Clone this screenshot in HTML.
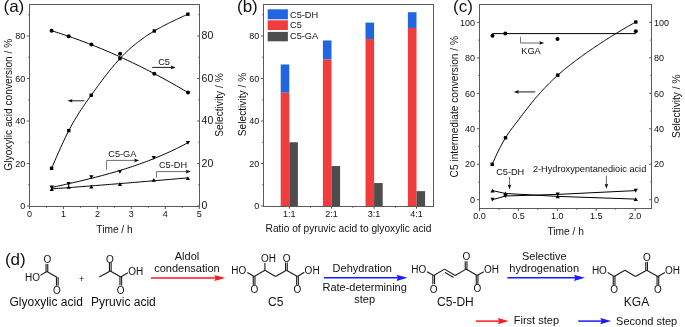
<!DOCTYPE html>
<html><head><meta charset="utf-8"><style>
html,body{margin:0;padding:0;background:#fff;overflow:hidden;width:685px;height:327px;}
svg{display:block;will-change:transform;}
text{font-family:"Liberation Sans", sans-serif;}
</style></head><body>
<svg width="685" height="327" viewBox="0 0 685 327">
<rect width="685" height="327" fill="#fff"/>
<rect x="29.5" y="4.5" width="170.0" height="202.0" fill="none" stroke="#5a5a5a" stroke-width="1.0"/>
<line x1="29.50" y1="206.50" x2="29.50" y2="209.10" stroke="#5a5a5a" stroke-width="1.0"/>
<text x="29.50" y="217.40" font-size="9" text-anchor="middle" fill="#111" >0</text>
<line x1="63.46" y1="206.50" x2="63.46" y2="209.10" stroke="#5a5a5a" stroke-width="1.0"/>
<text x="63.46" y="217.40" font-size="9" text-anchor="middle" fill="#111" >1</text>
<line x1="97.42" y1="206.50" x2="97.42" y2="209.10" stroke="#5a5a5a" stroke-width="1.0"/>
<text x="97.42" y="217.40" font-size="9" text-anchor="middle" fill="#111" >2</text>
<line x1="131.38" y1="206.50" x2="131.38" y2="209.10" stroke="#5a5a5a" stroke-width="1.0"/>
<text x="131.38" y="217.40" font-size="9" text-anchor="middle" fill="#111" >3</text>
<line x1="165.34" y1="206.50" x2="165.34" y2="209.10" stroke="#5a5a5a" stroke-width="1.0"/>
<text x="165.34" y="217.40" font-size="9" text-anchor="middle" fill="#111" >4</text>
<line x1="199.30" y1="206.50" x2="199.30" y2="209.10" stroke="#5a5a5a" stroke-width="1.0"/>
<text x="199.30" y="217.40" font-size="9" text-anchor="middle" fill="#111" >5</text>
<line x1="46.48" y1="206.50" x2="46.48" y2="207.80" stroke="#5a5a5a" stroke-width="1.0"/>
<line x1="80.44" y1="206.50" x2="80.44" y2="207.80" stroke="#5a5a5a" stroke-width="1.0"/>
<line x1="114.40" y1="206.50" x2="114.40" y2="207.80" stroke="#5a5a5a" stroke-width="1.0"/>
<line x1="148.36" y1="206.50" x2="148.36" y2="207.80" stroke="#5a5a5a" stroke-width="1.0"/>
<line x1="182.32" y1="206.50" x2="182.32" y2="207.80" stroke="#5a5a5a" stroke-width="1.0"/>
<line x1="29.50" y1="206.00" x2="26.90" y2="206.00" stroke="#5a5a5a" stroke-width="1.0"/>
<line x1="199.50" y1="206.00" x2="197.10" y2="206.00" stroke="#5a5a5a" stroke-width="1.0"/>
<text x="25.30" y="209.20" font-size="9" text-anchor="end" fill="#111" >0</text>
<text x="201.55" y="209.30" font-size="10.5" text-anchor="start" fill="#111" >0</text>
<line x1="29.50" y1="163.50" x2="26.90" y2="163.50" stroke="#5a5a5a" stroke-width="1.0"/>
<line x1="199.50" y1="163.50" x2="197.10" y2="163.50" stroke="#5a5a5a" stroke-width="1.0"/>
<text x="25.30" y="166.70" font-size="9" text-anchor="end" fill="#111" >20</text>
<text x="201.55" y="166.80" font-size="10.5" text-anchor="start" fill="#111" >20</text>
<line x1="29.50" y1="121.00" x2="26.90" y2="121.00" stroke="#5a5a5a" stroke-width="1.0"/>
<line x1="199.50" y1="121.00" x2="197.10" y2="121.00" stroke="#5a5a5a" stroke-width="1.0"/>
<text x="25.30" y="124.20" font-size="9" text-anchor="end" fill="#111" >40</text>
<text x="201.55" y="124.30" font-size="10.5" text-anchor="start" fill="#111" >40</text>
<line x1="29.50" y1="78.50" x2="26.90" y2="78.50" stroke="#5a5a5a" stroke-width="1.0"/>
<line x1="199.50" y1="78.50" x2="197.10" y2="78.50" stroke="#5a5a5a" stroke-width="1.0"/>
<text x="25.30" y="81.70" font-size="9" text-anchor="end" fill="#111" >60</text>
<text x="201.55" y="81.80" font-size="10.5" text-anchor="start" fill="#111" >60</text>
<line x1="29.50" y1="36.00" x2="26.90" y2="36.00" stroke="#5a5a5a" stroke-width="1.0"/>
<line x1="199.50" y1="36.00" x2="197.10" y2="36.00" stroke="#5a5a5a" stroke-width="1.0"/>
<text x="25.30" y="39.20" font-size="9" text-anchor="end" fill="#111" >80</text>
<text x="201.55" y="39.30" font-size="10.5" text-anchor="start" fill="#111" >80</text>
<line x1="29.50" y1="184.75" x2="28.20" y2="184.75" stroke="#5a5a5a" stroke-width="1.0"/>
<line x1="199.50" y1="184.75" x2="198.30" y2="184.75" stroke="#5a5a5a" stroke-width="1.0"/>
<line x1="29.50" y1="142.25" x2="28.20" y2="142.25" stroke="#5a5a5a" stroke-width="1.0"/>
<line x1="199.50" y1="142.25" x2="198.30" y2="142.25" stroke="#5a5a5a" stroke-width="1.0"/>
<line x1="29.50" y1="99.75" x2="28.20" y2="99.75" stroke="#5a5a5a" stroke-width="1.0"/>
<line x1="199.50" y1="99.75" x2="198.30" y2="99.75" stroke="#5a5a5a" stroke-width="1.0"/>
<line x1="29.50" y1="57.25" x2="28.20" y2="57.25" stroke="#5a5a5a" stroke-width="1.0"/>
<line x1="199.50" y1="57.25" x2="198.30" y2="57.25" stroke="#5a5a5a" stroke-width="1.0"/>
<line x1="29.50" y1="14.75" x2="28.20" y2="14.75" stroke="#5a5a5a" stroke-width="1.0"/>
<line x1="199.50" y1="14.75" x2="198.30" y2="14.75" stroke="#5a5a5a" stroke-width="1.0"/>
<text x="114.50" y="232.60" font-size="10.2" text-anchor="middle" fill="#111" >Time / h</text>
<text x="0" y="0" font-size="10.2" text-anchor="middle" fill="#111" transform="translate(11.50,104.70) rotate(-90)">Glyoxylic acid conversion / %</text>
<text x="0" y="0" font-size="10.2" text-anchor="middle" fill="#111" transform="translate(223.30,105.00) rotate(-90)">Selectivity / %</text>
<text x="3.50" y="12.00" font-size="17" text-anchor="start" fill="#111" >(a)</text>
<path d="M51.60,30.73 L53.91,31.45 L56.22,32.18 L58.54,32.92 L60.85,33.68 L63.16,34.45 L65.47,35.22 L67.78,36.01 L70.09,36.81 L72.41,37.63 L74.72,38.45 L77.03,39.28 L79.34,40.13 L81.65,40.99 L83.97,41.85 L86.28,42.73 L88.59,43.62 L90.90,44.53 L93.21,45.44 L95.53,46.36 L97.84,47.30 L100.15,48.25 L102.46,49.20 L104.77,50.17 L107.08,51.15 L109.40,52.15 L111.71,53.15 L114.02,54.16 L116.33,55.19 L118.64,56.23 L120.96,57.27 L123.27,58.33 L125.58,59.41 L127.89,60.49 L130.20,61.58 L132.52,62.69 L134.83,63.80 L137.14,64.93 L139.45,66.07 L141.76,67.22 L144.07,68.38 L146.39,69.55 L148.70,70.73 L151.01,71.93 L153.32,73.13 L155.63,74.35 L157.95,75.58 L160.26,76.82 L162.57,78.07 L164.88,79.33 L167.19,80.61 L169.51,81.89 L171.82,83.19 L174.13,84.49 L176.44,85.81 L178.75,87.14 L181.06,88.48 L183.38,89.84 L185.69,91.20 L188.00,92.58" stroke="#000" stroke-width="1.0" fill="none"/>
<path d="M51.60,168.30 L52.75,165.64 L53.89,162.98 L55.04,160.34 L56.18,157.70 L57.33,155.08 L58.47,152.48 L59.62,149.91 L60.76,147.36 L61.91,144.84 L63.05,142.36 L64.20,139.92 L65.34,137.52 L66.49,135.18 L67.64,132.88 L68.78,130.64 L69.93,128.45 L71.07,126.33 L72.22,124.26 L73.36,122.24 L74.51,120.27 L75.65,118.34 L76.80,116.45 L77.94,114.61 L79.09,112.80 L80.23,111.03 L81.38,109.29 L82.53,107.57 L83.67,105.88 L84.82,104.22 L85.96,102.57 L87.11,100.94 L88.25,99.32 L89.40,97.71 L90.54,96.11 L91.69,94.52 L92.83,92.93 L93.98,91.35 L95.12,89.77 L96.27,88.19 L97.42,86.63 L98.56,85.07 L99.71,83.52 L100.85,81.98 L102.00,80.46 L103.14,78.94 L104.29,77.44 L105.43,75.95 L106.58,74.47 L107.72,73.01 L108.87,71.57 L110.01,70.14 L111.16,68.73 L112.31,67.34 L113.45,65.97 L114.60,64.62 L115.74,63.29 L116.89,61.98 L118.03,60.70 L119.18,59.44 L120.32,58.20 L121.47,56.99 L122.61,55.81 L123.76,54.65 L124.90,53.51 L126.05,52.40 L127.19,51.30 L128.34,50.24 L129.49,49.19 L130.63,48.17 L131.78,47.16 L132.92,46.18 L134.07,45.22 L135.21,44.27 L136.36,43.35 L137.50,42.44 L138.65,41.56 L139.79,40.69 L140.94,39.83 L142.08,39.00 L143.23,38.18 L144.38,37.38 L145.52,36.59 L146.67,35.81 L147.81,35.05 L148.96,34.31 L150.10,33.58 L151.25,32.86 L152.39,32.15 L153.54,31.46 L154.68,30.77 L155.83,30.10 L156.97,29.44 L158.12,28.79 L159.27,28.14 L160.41,27.51 L161.56,26.89 L162.70,26.27 L163.85,25.67 L164.99,25.07 L166.14,24.48 L167.28,23.90 L168.43,23.32 L169.57,22.75 L170.72,22.19 L171.86,21.63 L173.01,21.08 L174.16,20.53 L175.30,19.98 L176.45,19.45 L177.59,18.91 L178.74,18.38 L179.88,17.85 L181.03,17.32 L182.17,16.80 L183.32,16.28 L184.46,15.76 L185.61,15.24 L186.75,14.72 L187.90,14.20" stroke="#000" stroke-width="1.0" fill="none"/>
<path d="M51.70,187.48 L54.01,186.97 L56.32,186.45 L58.63,185.94 L60.93,185.43 L63.24,184.91 L65.55,184.39 L67.86,183.87 L70.17,183.35 L72.48,182.82 L74.78,182.29 L77.09,181.75 L79.40,181.21 L81.71,180.66 L84.02,180.11 L86.33,179.55 L88.64,178.98 L90.94,178.41 L93.25,177.83 L95.56,177.25 L97.87,176.65 L100.18,176.05 L102.49,175.43 L104.79,174.81 L107.10,174.18 L109.41,173.54 L111.72,172.89 L114.03,172.22 L116.34,171.55 L118.65,170.86 L120.95,170.16 L123.26,169.45 L125.57,168.72 L127.88,167.98 L130.19,167.23 L132.50,166.46 L134.81,165.68 L137.11,164.88 L139.42,164.07 L141.73,163.24 L144.04,162.40 L146.35,161.54 L148.66,160.66 L150.96,159.76 L153.27,158.85 L155.58,157.91 L157.89,156.96 L160.20,155.99 L162.51,155.00 L164.82,153.99 L167.12,152.96 L169.43,151.90 L171.74,150.83 L174.05,149.73 L176.36,148.62 L178.67,147.48 L180.97,146.31 L183.28,145.13 L185.59,143.91 L187.90,142.68" stroke="#000" stroke-width="1.0" fill="none"/>
<path d="M51.70,188.91 L54.01,188.73 L56.32,188.56 L58.63,188.39 L60.93,188.21 L63.24,188.04 L65.55,187.86 L67.86,187.69 L70.17,187.51 L72.48,187.34 L74.78,187.16 L77.09,186.98 L79.40,186.80 L81.71,186.62 L84.02,186.45 L86.33,186.27 L88.64,186.09 L90.94,185.90 L93.25,185.72 L95.56,185.54 L97.87,185.36 L100.18,185.18 L102.49,184.99 L104.79,184.81 L107.10,184.62 L109.41,184.44 L111.72,184.25 L114.03,184.07 L116.34,183.88 L118.65,183.69 L120.95,183.51 L123.26,183.32 L125.57,183.13 L127.88,182.94 L130.19,182.75 L132.50,182.56 L134.81,182.37 L137.11,182.18 L139.42,181.98 L141.73,181.79 L144.04,181.60 L146.35,181.41 L148.66,181.21 L150.96,181.02 L153.27,180.82 L155.58,180.63 L157.89,180.43 L160.20,180.23 L162.51,180.04 L164.82,179.84 L167.12,179.64 L169.43,179.44 L171.74,179.24 L174.05,179.04 L176.36,178.84 L178.67,178.64 L180.97,178.44 L183.28,178.24 L185.59,178.04 L187.90,177.83" stroke="#000" stroke-width="1.0" fill="none"/>
<rect x="49.90" y="166.60" width="3.4" height="3.4" fill="#000"/>
<rect x="67.10" y="128.90" width="3.4" height="3.4" fill="#000"/>
<rect x="89.50" y="93.50" width="3.4" height="3.4" fill="#000"/>
<rect x="118.25" y="56.90" width="3.4" height="3.4" fill="#000"/>
<rect x="152.60" y="29.30" width="3.4" height="3.4" fill="#000"/>
<rect x="186.20" y="12.50" width="3.4" height="3.4" fill="#000"/>
<circle cx="51.60" cy="30.80" r="2.0" fill="#000"/>
<circle cx="68.70" cy="36.30" r="2.0" fill="#000"/>
<circle cx="91.40" cy="44.60" r="2.0" fill="#000"/>
<circle cx="120.10" cy="53.70" r="2.0" fill="#000"/>
<circle cx="154.30" cy="73.80" r="2.0" fill="#000"/>
<circle cx="188.00" cy="92.50" r="2.0" fill="#000"/>
<path d="M49.60,185.60 L53.80,185.60 L51.70,189.40 Z" fill="#000"/>
<path d="M66.60,182.10 L70.80,182.10 L68.70,185.90 Z" fill="#000"/>
<path d="M89.30,175.30 L93.50,175.30 L91.40,179.10 Z" fill="#000"/>
<path d="M117.80,169.90 L122.00,169.90 L119.90,173.70 Z" fill="#000"/>
<path d="M151.70,156.00 L155.90,156.00 L153.80,159.80 Z" fill="#000"/>
<path d="M185.80,140.95 L190.00,140.95 L187.90,144.75 Z" fill="#000"/>
<path d="M49.60,190.95 L53.80,190.95 L51.70,187.15 Z" fill="#000"/>
<path d="M66.60,188.80 L70.80,188.80 L68.70,185.00 Z" fill="#000"/>
<path d="M89.30,188.50 L93.50,188.50 L91.40,184.70 Z" fill="#000"/>
<path d="M117.80,185.90 L122.00,185.90 L119.90,182.10 Z" fill="#000"/>
<path d="M151.70,181.75 L155.90,181.75 L153.80,177.95 Z" fill="#000"/>
<path d="M185.80,180.10 L190.00,180.10 L187.90,176.30 Z" fill="#000"/>
<line x1="84.30" y1="100.80" x2="70.50" y2="100.80" stroke="#000" stroke-width="0.9"/>
<path d="M67.50,100.80 L72.50,99.00 L71.75,100.80 L72.50,102.60 Z" fill="#111"/>
<text x="164.00" y="64.50" font-size="9.2" text-anchor="middle" fill="#111" >C5</text>
<line x1="152.20" y1="67.40" x2="172.70" y2="67.40" stroke="#000" stroke-width="0.9"/>
<path d="M175.70,67.40 L170.70,65.60 L171.45,67.40 L170.70,69.20 Z" fill="#111"/>
<text x="122.30" y="157.30" font-size="9.2" text-anchor="middle" fill="#111" >C5-GA</text>
<path d="M106.5,169.9 L106.5,160.4" stroke="#5a5a5a" stroke-width="0.8" fill="none"/>
<line x1="106.50" y1="160.40" x2="136.20" y2="160.40" stroke="#5a5a5a" stroke-width="0.9"/>
<path d="M139.20,160.40 L134.20,158.60 L134.95,160.40 L134.20,162.20 Z" fill="#111"/>
<text x="173.00" y="168.00" font-size="9.2" text-anchor="middle" fill="#111" >C5-DH</text>
<path d="M156.5,177.7 L156.5,171.6" stroke="#5a5a5a" stroke-width="0.8" fill="none"/>
<line x1="156.50" y1="171.60" x2="187.80" y2="171.60" stroke="#5a5a5a" stroke-width="0.9"/>
<path d="M190.80,171.60 L185.80,169.80 L186.55,171.60 L185.80,173.40 Z" fill="#111"/>
<rect x="263.5" y="4.5" width="170.0" height="202.0" fill="none" stroke="#5a5a5a" stroke-width="1.0"/>
<line x1="263.50" y1="206.00" x2="260.90" y2="206.00" stroke="#5a5a5a" stroke-width="1.0"/>
<text x="259.30" y="209.20" font-size="9" text-anchor="end" fill="#111" >0</text>
<line x1="263.50" y1="163.50" x2="260.90" y2="163.50" stroke="#5a5a5a" stroke-width="1.0"/>
<text x="259.30" y="166.70" font-size="9" text-anchor="end" fill="#111" >20</text>
<line x1="263.50" y1="121.00" x2="260.90" y2="121.00" stroke="#5a5a5a" stroke-width="1.0"/>
<text x="259.30" y="124.20" font-size="9" text-anchor="end" fill="#111" >40</text>
<line x1="263.50" y1="78.50" x2="260.90" y2="78.50" stroke="#5a5a5a" stroke-width="1.0"/>
<text x="259.30" y="81.70" font-size="9" text-anchor="end" fill="#111" >60</text>
<line x1="263.50" y1="36.00" x2="260.90" y2="36.00" stroke="#5a5a5a" stroke-width="1.0"/>
<text x="259.30" y="39.20" font-size="9" text-anchor="end" fill="#111" >80</text>
<line x1="263.50" y1="184.75" x2="262.20" y2="184.75" stroke="#5a5a5a" stroke-width="1.0"/>
<line x1="263.50" y1="142.25" x2="262.20" y2="142.25" stroke="#5a5a5a" stroke-width="1.0"/>
<line x1="263.50" y1="99.75" x2="262.20" y2="99.75" stroke="#5a5a5a" stroke-width="1.0"/>
<line x1="263.50" y1="57.25" x2="262.20" y2="57.25" stroke="#5a5a5a" stroke-width="1.0"/>
<line x1="263.50" y1="14.75" x2="262.20" y2="14.75" stroke="#5a5a5a" stroke-width="1.0"/>
<rect x="280.70" y="64.48" width="8.6" height="28.26" fill="#1f66e0"/>
<rect x="280.70" y="92.74" width="8.6" height="113.76" fill="#f03c3c"/>
<rect x="289.30" y="142.25" width="8.6" height="64.25" fill="#4d4d4d"/>
<line x1="289.30" y1="206.50" x2="289.30" y2="208.70" stroke="#5a5a5a" stroke-width="1.0"/>
<text x="289.30" y="217.20" font-size="9" text-anchor="middle" fill="#111" >1:1</text>
<rect x="322.90" y="40.46" width="8.6" height="19.12" fill="#1f66e0"/>
<rect x="322.90" y="59.59" width="8.6" height="146.91" fill="#f03c3c"/>
<rect x="331.50" y="166.05" width="8.6" height="40.45" fill="#4d4d4d"/>
<line x1="331.50" y1="206.50" x2="331.50" y2="208.70" stroke="#5a5a5a" stroke-width="1.0"/>
<text x="331.50" y="217.20" font-size="9" text-anchor="middle" fill="#111" >2:1</text>
<rect x="365.50" y="22.61" width="8.6" height="16.36" fill="#1f66e0"/>
<rect x="365.50" y="38.98" width="8.6" height="167.52" fill="#f03c3c"/>
<rect x="374.10" y="183.05" width="8.6" height="23.45" fill="#4d4d4d"/>
<line x1="374.10" y1="206.50" x2="374.10" y2="208.70" stroke="#5a5a5a" stroke-width="1.0"/>
<text x="374.10" y="217.20" font-size="9" text-anchor="middle" fill="#111" >3:1</text>
<rect x="407.90" y="12.20" width="8.6" height="15.73" fill="#1f66e0"/>
<rect x="407.90" y="27.93" width="8.6" height="178.57" fill="#f03c3c"/>
<rect x="416.50" y="191.12" width="8.6" height="15.38" fill="#4d4d4d"/>
<line x1="416.50" y1="206.50" x2="416.50" y2="208.70" stroke="#5a5a5a" stroke-width="1.0"/>
<text x="416.50" y="217.20" font-size="9" text-anchor="middle" fill="#111" >4:1</text>
<line x1="263.50" y1="206.50" x2="433.50" y2="206.50" stroke="#5a5a5a" stroke-width="1.0"/>
<line x1="310.40" y1="206.50" x2="310.40" y2="207.80" stroke="#5a5a5a" stroke-width="1.0"/>
<line x1="352.80" y1="206.50" x2="352.80" y2="207.80" stroke="#5a5a5a" stroke-width="1.0"/>
<line x1="395.30" y1="206.50" x2="395.30" y2="207.80" stroke="#5a5a5a" stroke-width="1.0"/>
<text x="348.50" y="232.20" font-size="10.2" text-anchor="middle" fill="#111" >Ratio of pyruvic acid to glyoxylic acid</text>
<text x="0" y="0" font-size="10.2" text-anchor="middle" fill="#111" transform="translate(246.30,104.50) rotate(-90)">Selectivity / %</text>
<text x="237.00" y="12.00" font-size="17" text-anchor="start" fill="#111" >(b)</text>
<rect x="267.7" y="9.3" width="20.2" height="10" fill="#1f66e0"/>
<rect x="267.7" y="20.3" width="20.2" height="9.7" fill="#f03c3c"/>
<rect x="267.7" y="31.9" width="20.2" height="9.4" fill="#4d4d4d"/>
<text x="290.00" y="17.70" font-size="9.2" text-anchor="start" fill="#111" >C5-DH</text>
<text x="290.00" y="28.40" font-size="9.2" text-anchor="start" fill="#111" >C5</text>
<text x="290.00" y="39.40" font-size="9.2" text-anchor="start" fill="#111" >C5-GA</text>
<rect x="479.5" y="4.5" width="172.0" height="204.0" fill="none" stroke="#5a5a5a" stroke-width="1.0"/>
<line x1="479.50" y1="208.50" x2="479.50" y2="211.10" stroke="#5a5a5a" stroke-width="1.0"/>
<text x="479.50" y="219.40" font-size="9" text-anchor="middle" fill="#111" >0.0</text>
<line x1="518.40" y1="208.50" x2="518.40" y2="211.10" stroke="#5a5a5a" stroke-width="1.0"/>
<text x="518.40" y="219.40" font-size="9" text-anchor="middle" fill="#111" >0.5</text>
<line x1="557.30" y1="208.50" x2="557.30" y2="211.10" stroke="#5a5a5a" stroke-width="1.0"/>
<text x="557.30" y="219.40" font-size="9" text-anchor="middle" fill="#111" >1.0</text>
<line x1="596.20" y1="208.50" x2="596.20" y2="211.10" stroke="#5a5a5a" stroke-width="1.0"/>
<text x="596.20" y="219.40" font-size="9" text-anchor="middle" fill="#111" >1.5</text>
<line x1="635.10" y1="208.50" x2="635.10" y2="211.10" stroke="#5a5a5a" stroke-width="1.0"/>
<text x="635.10" y="219.40" font-size="9" text-anchor="middle" fill="#111" >2.0</text>
<line x1="498.95" y1="208.50" x2="498.95" y2="209.80" stroke="#5a5a5a" stroke-width="1.0"/>
<line x1="537.85" y1="208.50" x2="537.85" y2="209.80" stroke="#5a5a5a" stroke-width="1.0"/>
<line x1="576.75" y1="208.50" x2="576.75" y2="209.80" stroke="#5a5a5a" stroke-width="1.0"/>
<line x1="615.65" y1="208.50" x2="615.65" y2="209.80" stroke="#5a5a5a" stroke-width="1.0"/>
<line x1="479.50" y1="199.70" x2="476.90" y2="199.70" stroke="#5a5a5a" stroke-width="1.0"/>
<line x1="651.50" y1="199.70" x2="649.10" y2="199.70" stroke="#5a5a5a" stroke-width="1.0"/>
<text x="475.00" y="202.90" font-size="9" text-anchor="end" fill="#111" >0</text>
<text x="654.10" y="202.90" font-size="9" text-anchor="start" fill="#111" >0</text>
<line x1="479.50" y1="164.24" x2="476.90" y2="164.24" stroke="#5a5a5a" stroke-width="1.0"/>
<line x1="651.50" y1="164.24" x2="649.10" y2="164.24" stroke="#5a5a5a" stroke-width="1.0"/>
<text x="475.00" y="167.44" font-size="9" text-anchor="end" fill="#111" >20</text>
<text x="654.10" y="167.44" font-size="9" text-anchor="start" fill="#111" >20</text>
<line x1="479.50" y1="128.78" x2="476.90" y2="128.78" stroke="#5a5a5a" stroke-width="1.0"/>
<line x1="651.50" y1="128.78" x2="649.10" y2="128.78" stroke="#5a5a5a" stroke-width="1.0"/>
<text x="475.00" y="131.98" font-size="9" text-anchor="end" fill="#111" >40</text>
<text x="654.10" y="131.98" font-size="9" text-anchor="start" fill="#111" >40</text>
<line x1="479.50" y1="93.32" x2="476.90" y2="93.32" stroke="#5a5a5a" stroke-width="1.0"/>
<line x1="651.50" y1="93.32" x2="649.10" y2="93.32" stroke="#5a5a5a" stroke-width="1.0"/>
<text x="475.00" y="96.52" font-size="9" text-anchor="end" fill="#111" >60</text>
<text x="654.10" y="96.52" font-size="9" text-anchor="start" fill="#111" >60</text>
<line x1="479.50" y1="57.86" x2="476.90" y2="57.86" stroke="#5a5a5a" stroke-width="1.0"/>
<line x1="651.50" y1="57.86" x2="649.10" y2="57.86" stroke="#5a5a5a" stroke-width="1.0"/>
<text x="475.00" y="61.06" font-size="9" text-anchor="end" fill="#111" >80</text>
<text x="654.10" y="61.06" font-size="9" text-anchor="start" fill="#111" >80</text>
<line x1="479.50" y1="22.40" x2="476.90" y2="22.40" stroke="#5a5a5a" stroke-width="1.0"/>
<line x1="651.50" y1="22.40" x2="649.10" y2="22.40" stroke="#5a5a5a" stroke-width="1.0"/>
<text x="475.00" y="25.60" font-size="9" text-anchor="end" fill="#111" >100</text>
<text x="654.10" y="25.60" font-size="9" text-anchor="start" fill="#111" >100</text>
<line x1="479.50" y1="181.97" x2="478.20" y2="181.97" stroke="#5a5a5a" stroke-width="1.0"/>
<line x1="651.50" y1="181.97" x2="650.30" y2="181.97" stroke="#5a5a5a" stroke-width="1.0"/>
<line x1="479.50" y1="146.51" x2="478.20" y2="146.51" stroke="#5a5a5a" stroke-width="1.0"/>
<line x1="651.50" y1="146.51" x2="650.30" y2="146.51" stroke="#5a5a5a" stroke-width="1.0"/>
<line x1="479.50" y1="111.05" x2="478.20" y2="111.05" stroke="#5a5a5a" stroke-width="1.0"/>
<line x1="651.50" y1="111.05" x2="650.30" y2="111.05" stroke="#5a5a5a" stroke-width="1.0"/>
<line x1="479.50" y1="75.59" x2="478.20" y2="75.59" stroke="#5a5a5a" stroke-width="1.0"/>
<line x1="651.50" y1="75.59" x2="650.30" y2="75.59" stroke="#5a5a5a" stroke-width="1.0"/>
<line x1="479.50" y1="40.13" x2="478.20" y2="40.13" stroke="#5a5a5a" stroke-width="1.0"/>
<line x1="651.50" y1="40.13" x2="650.30" y2="40.13" stroke="#5a5a5a" stroke-width="1.0"/>
<text x="565.60" y="234.70" font-size="10.2" text-anchor="middle" fill="#111" >Time / h</text>
<text x="0" y="0" font-size="10.2" text-anchor="middle" fill="#111" transform="translate(457.60,106.70) rotate(-90)">C5 intermediate conversion / %</text>
<text x="0" y="0" font-size="10.2" text-anchor="middle" fill="#111" transform="translate(679.80,106.20) rotate(-90)">Selectivity / %</text>
<text x="453.00" y="12.00" font-size="17" text-anchor="start" fill="#111" >(c)</text>
<path d="M492.20,164.30 L493.41,161.55 L494.61,158.86 L495.82,156.23 L497.03,153.67 L498.23,151.17 L499.44,148.75 L500.65,146.41 L501.85,144.14 L503.06,141.96 L504.27,139.86 L505.47,137.84 L506.68,135.92 L507.89,134.09 L509.09,132.33 L510.30,130.64 L511.51,128.99 L512.71,127.39 L513.92,125.81 L515.13,124.25 L516.33,122.69 L517.54,121.13 L518.75,119.54 L519.95,117.95 L521.16,116.36 L522.37,114.77 L523.57,113.19 L524.78,111.61 L525.99,110.05 L527.19,108.49 L528.40,106.95 L529.61,105.42 L530.82,103.91 L532.02,102.41 L533.23,100.94 L534.44,99.49 L535.64,98.06 L536.85,96.65 L538.06,95.28 L539.26,93.92 L540.47,92.58 L541.68,91.26 L542.88,89.95 L544.09,88.65 L545.30,87.37 L546.50,86.10 L547.71,84.85 L548.92,83.62 L550.12,82.41 L551.33,81.22 L552.54,80.04 L553.74,78.88 L554.95,77.75 L556.16,76.63 L557.36,75.54 L558.57,74.47 L559.78,73.41 L560.98,72.37 L562.19,71.34 L563.40,70.33 L564.60,69.33 L565.81,68.35 L567.02,67.38 L568.22,66.41 L569.43,65.46 L570.64,64.52 L571.84,63.59 L573.05,62.67 L574.26,61.76 L575.46,60.85 L576.67,59.95 L577.88,59.06 L579.08,58.18 L580.29,57.30 L581.50,56.42 L582.70,55.55 L583.91,54.68 L585.12,53.82 L586.32,52.96 L587.53,52.10 L588.74,51.25 L589.94,50.41 L591.15,49.58 L592.36,48.75 L593.56,47.92 L594.77,47.11 L595.98,46.29 L597.18,45.49 L598.39,44.68 L599.60,43.89 L600.81,43.10 L602.01,42.31 L603.22,41.53 L604.43,40.75 L605.63,39.97 L606.84,39.21 L608.05,38.44 L609.25,37.68 L610.46,36.92 L611.67,36.17 L612.87,35.42 L614.08,34.67 L615.29,33.92 L616.49,33.18 L617.70,32.45 L618.91,31.72 L620.11,31.00 L621.32,30.28 L622.53,29.56 L623.73,28.85 L624.94,28.15 L626.15,27.44 L627.35,26.75 L628.56,26.06 L629.77,25.37 L630.97,24.69 L632.18,24.01 L633.39,23.34 L634.59,22.67 L635.80,22.00" stroke="#000" stroke-width="1.0" fill="none"/>
<path d="M492.5,33.6 L635.8,33.6" stroke="#000" stroke-width="1.0" fill="none"/>
<path d="M492.5,190.6 L505.5,193.5 L557.7,196.4 L635.8,199.1" stroke="#000" stroke-width="1.0" fill="none"/>
<path d="M492.5,199.7 L505.5,196.0 L557.7,194.4 L635.8,190.6" stroke="#000" stroke-width="1.0" fill="none"/>
<rect x="490.50" y="162.60" width="3.4" height="3.4" fill="#000"/>
<rect x="503.80" y="136.10" width="3.4" height="3.4" fill="#000"/>
<rect x="556.10" y="73.45" width="3.4" height="3.4" fill="#000"/>
<rect x="634.10" y="20.30" width="3.4" height="3.4" fill="#000"/>
<circle cx="492.50" cy="35.70" r="2.0" fill="#000"/>
<circle cx="505.30" cy="33.50" r="2.0" fill="#000"/>
<circle cx="557.50" cy="39.00" r="2.0" fill="#000"/>
<circle cx="635.80" cy="31.30" r="2.0" fill="#000"/>
<path d="M490.40,192.50 L494.60,192.50 L492.50,188.70 Z" fill="#000"/>
<path d="M503.40,195.40 L507.60,195.40 L505.50,191.60 Z" fill="#000"/>
<path d="M555.60,198.30 L559.80,198.30 L557.70,194.50 Z" fill="#000"/>
<path d="M633.70,201.00 L637.90,201.00 L635.80,197.20 Z" fill="#000"/>
<path d="M490.40,197.80 L494.60,197.80 L492.50,201.60 Z" fill="#000"/>
<path d="M503.40,194.10 L507.60,194.10 L505.50,197.90 Z" fill="#000"/>
<path d="M555.60,192.50 L559.80,192.50 L557.70,196.30 Z" fill="#000"/>
<path d="M633.70,188.70 L637.90,188.70 L635.80,192.50 Z" fill="#000"/>
<line x1="535.20" y1="91.90" x2="516.80" y2="91.90" stroke="#000" stroke-width="0.9"/>
<path d="M513.80,91.90 L518.80,90.10 L518.05,91.90 L518.80,93.70 Z" fill="#111"/>
<path d="M520.5,36.8 L520.5,43" stroke="#5a5a5a" stroke-width="0.8" fill="none"/>
<line x1="520.50" y1="43.00" x2="541.30" y2="43.00" stroke="#5a5a5a" stroke-width="0.9"/>
<path d="M544.30,43.00 L539.30,41.20 L540.05,43.00 L539.30,44.80 Z" fill="#111"/>
<text x="531.00" y="53.80" font-size="9.2" text-anchor="middle" fill="#111" >KGA</text>
<text x="510.20" y="175.10" font-size="9.2" text-anchor="middle" fill="#111" >C5-DH</text>
<line x1="509.50" y1="177.00" x2="509.50" y2="186.50" stroke="#5a5a5a" stroke-width="0.9"/>
<path d="M509.50,189.50 L507.70,184.50 L509.50,185.25 L511.30,184.50 Z" fill="#111"/>
<text x="589.60" y="172.00" font-size="9.2" text-anchor="middle" fill="#111" >2-Hydroxypentanedioic acid</text>
<line x1="606.40" y1="175.70" x2="606.40" y2="185.70" stroke="#5a5a5a" stroke-width="0.9"/>
<path d="M606.40,188.70 L604.60,183.70 L606.40,184.45 L608.20,183.70 Z" fill="#111"/>
<text x="4.90" y="265.00" font-size="17" text-anchor="start" fill="#111" >(d)</text>
<text x="32.48" y="281.44" font-size="10" text-anchor="middle" fill="#111" >HO</text>
<line x1="40.30" y1="275.40" x2="46.90" y2="271.50" stroke="#1a1a1a" stroke-width="1.1"/>
<line x1="46.05" y1="263.90" x2="46.05" y2="271.80" stroke="#1a1a1a" stroke-width="1.1"/>
<line x1="47.75" y1="263.90" x2="47.75" y2="271.80" stroke="#1a1a1a" stroke-width="1.1"/>
<text x="47.45" y="262.84" font-size="10" text-anchor="middle" fill="#111" >O</text>
<line x1="46.90" y1="271.50" x2="57.30" y2="277.50" stroke="#1a1a1a" stroke-width="1.1"/>
<line x1="56.45" y1="277.20" x2="56.45" y2="285.70" stroke="#1a1a1a" stroke-width="1.1"/>
<line x1="58.15" y1="277.20" x2="58.15" y2="285.70" stroke="#1a1a1a" stroke-width="1.1"/>
<text x="57.00" y="293.99" font-size="10" text-anchor="middle" fill="#111" >O</text>
<text x="81.70" y="281.70" font-size="9" text-anchor="middle" fill="#111" >+</text>
<text x="46.15" y="305.60" font-size="12" text-anchor="middle" fill="#111" >Glyoxylic acid</text>
<line x1="99.20" y1="277.00" x2="110.30" y2="270.90" stroke="#1a1a1a" stroke-width="1.1"/>
<line x1="109.45" y1="262.60" x2="109.45" y2="271.20" stroke="#1a1a1a" stroke-width="1.1"/>
<line x1="111.15" y1="262.60" x2="111.15" y2="271.20" stroke="#1a1a1a" stroke-width="1.1"/>
<text x="109.95" y="262.59" font-size="10" text-anchor="middle" fill="#111" >O</text>
<line x1="110.30" y1="270.90" x2="120.80" y2="277.00" stroke="#1a1a1a" stroke-width="1.1"/>
<line x1="119.95" y1="276.70" x2="119.95" y2="285.60" stroke="#1a1a1a" stroke-width="1.1"/>
<line x1="121.65" y1="276.70" x2="121.65" y2="285.60" stroke="#1a1a1a" stroke-width="1.1"/>
<text x="120.75" y="293.54" font-size="10" text-anchor="middle" fill="#111" >O</text>
<line x1="120.80" y1="277.00" x2="127.90" y2="272.80" stroke="#1a1a1a" stroke-width="1.1"/>
<text x="135.83" y="274.69" font-size="10" text-anchor="middle" fill="#111" >OH</text>
<text x="123.40" y="305.60" font-size="12" text-anchor="middle" fill="#111" >Pyruvic acid</text>
<text x="187.00" y="259.60" font-size="11" text-anchor="middle" fill="#111" >Aldol</text>
<text x="186.90" y="271.70" font-size="11" text-anchor="middle" fill="#111" >condensation</text>
<text x="238.83" y="274.09" font-size="10" text-anchor="middle" fill="#111" >HO</text>
<line x1="247.30" y1="272.60" x2="254.10" y2="276.50" stroke="#1a1a1a" stroke-width="1.1"/>
<line x1="253.25" y1="276.20" x2="253.25" y2="284.90" stroke="#1a1a1a" stroke-width="1.1"/>
<line x1="254.95" y1="276.20" x2="254.95" y2="284.90" stroke="#1a1a1a" stroke-width="1.1"/>
<text x="254.30" y="293.29" font-size="10" text-anchor="middle" fill="#111" >O</text>
<line x1="254.10" y1="276.50" x2="264.90" y2="270.20" stroke="#1a1a1a" stroke-width="1.1"/>
<line x1="264.90" y1="270.20" x2="264.90" y2="263.00" stroke="#1a1a1a" stroke-width="1.1"/>
<text x="268.38" y="261.64" font-size="10" text-anchor="middle" fill="#111" >OH</text>
<line x1="264.90" y1="270.20" x2="275.60" y2="276.50" stroke="#1a1a1a" stroke-width="1.1"/>
<line x1="275.60" y1="276.50" x2="286.40" y2="270.20" stroke="#1a1a1a" stroke-width="1.1"/>
<line x1="285.55" y1="262.50" x2="285.55" y2="270.50" stroke="#1a1a1a" stroke-width="1.1"/>
<line x1="287.25" y1="262.50" x2="287.25" y2="270.50" stroke="#1a1a1a" stroke-width="1.1"/>
<text x="286.55" y="261.79" font-size="10" text-anchor="middle" fill="#111" >O</text>
<line x1="286.40" y1="270.20" x2="297.50" y2="276.50" stroke="#1a1a1a" stroke-width="1.1"/>
<line x1="296.65" y1="276.20" x2="296.65" y2="284.90" stroke="#1a1a1a" stroke-width="1.1"/>
<line x1="298.35" y1="276.20" x2="298.35" y2="284.90" stroke="#1a1a1a" stroke-width="1.1"/>
<text x="297.40" y="293.29" font-size="10" text-anchor="middle" fill="#111" >O</text>
<line x1="297.50" y1="276.50" x2="304.30" y2="272.30" stroke="#1a1a1a" stroke-width="1.1"/>
<text x="312.12" y="273.94" font-size="10" text-anchor="middle" fill="#111" >OH</text>
<text x="275.75" y="305.60" font-size="12" text-anchor="middle" fill="#111" >C5</text>
<text x="362.25" y="272.10" font-size="11" text-anchor="middle" fill="#111" >Dehydration</text>
<text x="364.65" y="290.90" font-size="11" text-anchor="middle" fill="#111" >Rate-determining</text>
<text x="364.70" y="302.50" font-size="11" text-anchor="middle" fill="#111" >step</text>
<text x="418.78" y="273.14" font-size="10" text-anchor="middle" fill="#111" >HO</text>
<line x1="427.00" y1="271.70" x2="433.70" y2="275.50" stroke="#1a1a1a" stroke-width="1.1"/>
<line x1="432.85" y1="275.20" x2="432.85" y2="284.20" stroke="#1a1a1a" stroke-width="1.1"/>
<line x1="434.55" y1="275.20" x2="434.55" y2="284.20" stroke="#1a1a1a" stroke-width="1.1"/>
<text x="433.60" y="292.54" font-size="10" text-anchor="middle" fill="#111" >O</text>
<line x1="433.70" y1="275.50" x2="444.50" y2="269.10" stroke="#1a1a1a" stroke-width="1.1"/>
<line x1="444.50" y1="269.10" x2="455.20" y2="275.50" stroke="#1a1a1a" stroke-width="1.1"/>
<line x1="445.00" y1="272.40" x2="453.60" y2="277.40" stroke="#1a1a1a" stroke-width="1.1"/>
<line x1="455.20" y1="275.50" x2="466.10" y2="269.10" stroke="#1a1a1a" stroke-width="1.1"/>
<line x1="465.25" y1="261.20" x2="465.25" y2="269.40" stroke="#1a1a1a" stroke-width="1.1"/>
<line x1="466.95" y1="261.20" x2="466.95" y2="269.40" stroke="#1a1a1a" stroke-width="1.1"/>
<text x="466.35" y="260.44" font-size="10" text-anchor="middle" fill="#111" >O</text>
<line x1="466.10" y1="269.10" x2="477.10" y2="275.50" stroke="#1a1a1a" stroke-width="1.1"/>
<line x1="476.25" y1="275.20" x2="476.25" y2="284.40" stroke="#1a1a1a" stroke-width="1.1"/>
<line x1="477.95" y1="275.20" x2="477.95" y2="284.40" stroke="#1a1a1a" stroke-width="1.1"/>
<text x="477.40" y="292.44" font-size="10" text-anchor="middle" fill="#111" >O</text>
<line x1="477.10" y1="275.50" x2="483.80" y2="271.80" stroke="#1a1a1a" stroke-width="1.1"/>
<text x="491.48" y="272.94" font-size="10" text-anchor="middle" fill="#111" >OH</text>
<text x="455.45" y="305.60" font-size="12" text-anchor="middle" fill="#111" >C5-DH</text>
<text x="544.30" y="259.50" font-size="11" text-anchor="middle" fill="#111" >Selective</text>
<text x="544.20" y="271.60" font-size="11" text-anchor="middle" fill="#111" >hydrogenation</text>
<text x="599.38" y="273.84" font-size="10" text-anchor="middle" fill="#111" >HO</text>
<line x1="607.70" y1="272.50" x2="614.10" y2="276.40" stroke="#1a1a1a" stroke-width="1.1"/>
<line x1="613.25" y1="276.10" x2="613.25" y2="284.90" stroke="#1a1a1a" stroke-width="1.1"/>
<line x1="614.95" y1="276.10" x2="614.95" y2="284.90" stroke="#1a1a1a" stroke-width="1.1"/>
<text x="614.20" y="292.84" font-size="10" text-anchor="middle" fill="#111" >O</text>
<line x1="614.10" y1="276.40" x2="624.90" y2="270.30" stroke="#1a1a1a" stroke-width="1.1"/>
<line x1="624.90" y1="270.30" x2="635.60" y2="276.40" stroke="#1a1a1a" stroke-width="1.1"/>
<line x1="635.60" y1="276.40" x2="646.60" y2="270.30" stroke="#1a1a1a" stroke-width="1.1"/>
<line x1="645.75" y1="261.90" x2="645.75" y2="270.60" stroke="#1a1a1a" stroke-width="1.1"/>
<line x1="647.45" y1="261.90" x2="647.45" y2="270.60" stroke="#1a1a1a" stroke-width="1.1"/>
<text x="646.80" y="261.44" font-size="10" text-anchor="middle" fill="#111" >O</text>
<line x1="646.60" y1="270.30" x2="657.90" y2="276.40" stroke="#1a1a1a" stroke-width="1.1"/>
<line x1="657.05" y1="276.10" x2="657.05" y2="285.10" stroke="#1a1a1a" stroke-width="1.1"/>
<line x1="658.75" y1="276.10" x2="658.75" y2="285.10" stroke="#1a1a1a" stroke-width="1.1"/>
<text x="657.90" y="292.79" font-size="10" text-anchor="middle" fill="#111" >O</text>
<line x1="657.90" y1="276.40" x2="665.00" y2="272.50" stroke="#1a1a1a" stroke-width="1.1"/>
<text x="672.47" y="273.69" font-size="10" text-anchor="middle" fill="#111" >OH</text>
<text x="636.50" y="305.60" font-size="12" text-anchor="middle" fill="#111" >KGA</text>
<text x="536.40" y="324.40" font-size="11" text-anchor="middle" fill="#111" >First step</text>
<text x="646.65" y="324.50" font-size="11" text-anchor="middle" fill="#111" >Second step</text>
<line x1="151" y1="278" x2="216.5" y2="278" stroke="#ff1a1a" stroke-width="1.5"/>
<path d="M225.3,278 L214.3,274.9 L215.84,278 L214.3,281.1 Z" fill="#ff1a1a"/>
<line x1="323.9" y1="277.8" x2="398.7" y2="277.8" stroke="#1a1aff" stroke-width="1.5"/>
<path d="M407.5,277.8 L396.5,274.7 L398.04,277.8 L396.5,280.90000000000003 Z" fill="#1a1aff"/>
<line x1="507.3" y1="277.8" x2="576.1" y2="277.8" stroke="#1a1aff" stroke-width="1.5"/>
<path d="M584.9,277.8 L573.9,274.7 L575.4399999999999,277.8 L573.9,280.90000000000003 Z" fill="#1a1aff"/>
<line x1="475.8" y1="321.1" x2="499.9" y2="321.1" stroke="#ff1a1a" stroke-width="1.5"/>
<path d="M508.7,321.1 L497.7,318.0 L499.24,321.1 L497.7,324.20000000000005 Z" fill="#ff1a1a"/>
<line x1="578.3" y1="321.1" x2="602.4000000000001" y2="321.1" stroke="#1a1aff" stroke-width="1.5"/>
<path d="M611.2,321.1 L600.2,318.0 L601.74,321.1 L600.2,324.20000000000005 Z" fill="#1a1aff"/>
</svg>
</body></html>
